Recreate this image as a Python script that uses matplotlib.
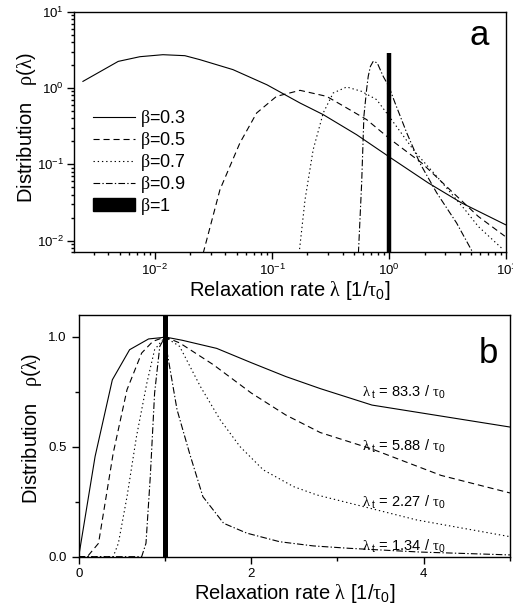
import numpy as np
import matplotlib
matplotlib.use('Agg')
import matplotlib.pyplot as plt
from matplotlib.lines import Line2D
from matplotlib.patches import Patch
from matplotlib.ticker import FixedLocator

plt.rcParams['font.family'] = ['Liberation Sans', 'DejaVu Sans']
plt.rcParams['mathtext.fontset'] = 'custom'
plt.rcParams['mathtext.rm'] = 'Liberation Serif'
plt.rcParams['mathtext.sf'] = 'Liberation Sans'
plt.rcParams['mathtext.it'] = 'Liberation Serif:italic'
plt.rcParams['axes.unicode_minus'] = False

# ------------------------------------------------------------
# Panel a: distributions of relaxation rates (log-log)
# ------------------------------------------------------------
betas = ['0.3', '0.5', '0.7', '0.9']

lam_b03 = [0.00243, 0.00486, 0.00745, 0.0117, 0.0180, 0.0242, 0.0463, 0.0904,
           0.173, 0.273, 0.526, 1.03, 2.15, 4.14, 9.82]
rho_b03 = [1.22, 2.23, 2.57, 2.73, 2.65, 2.35, 1.74, 1.10,
           0.635, 0.447, 0.244, 0.121, 0.0569, 0.0311, 0.0161]

lam_b05 = [0.0258, 0.0359, 0.0531, 0.0738, 0.109, 0.173, 0.292, 0.433,
           0.640, 1.03, 1.89, 3.40, 5.74, 9.68]
rho_b05 = [0.0068, 0.0465, 0.190, 0.470, 0.776, 0.931, 0.776, 0.547,
           0.385, 0.210, 0.104, 0.0442, 0.0207, 0.0114]

lam_b07 = [0.170, 0.191, 0.224, 0.273, 0.332, 0.433, 0.581, 0.780,
           1.03, 1.65, 2.61, 4.42, 5.74, 9.38]
rho_b07 = [0.0068, 0.0344, 0.155, 0.470, 0.859, 1.03, 0.902, 0.703,
           0.396, 0.146, 0.0661, 0.0254, 0.0153, 0.0076]

lam_b09 = [0.545, 0.581, 0.607, 0.640, 0.661, 0.690, 0.730, 0.789, 0.887,
           0.993, 1.12, 1.41, 1.82, 2.54, 3.75, 5.20]
rho_b09 = [0.0068, 0.0569, 0.425, 0.951, 1.42, 1.92, 2.24, 2.13, 1.42,
           1.04, 0.635, 0.257, 0.104, 0.0421, 0.0170, 0.0068]

# beta = 1: delta peak at lambda = 1/tau0
lam_b10 = [1.0, 1.0]
rho_b10 = [0.001, 2.9]

# ------------------------------------------------------------
# Panel b: truncated distributions, normalised at lambda = 1
# ------------------------------------------------------------
lam_t_labels = ['83.3', '5.88', '2.27', '1.34']

x_t833 = [0, 0.19, 0.39, 0.59, 0.81, 0.96, 1.0, 1.2, 1.6, 2.0, 2.4, 2.8, 3.4, 4.2, 5.0]
y_t833 = [0, 0.456, 0.805, 0.942, 0.991, 0.997, 1.0, 0.985, 0.948, 0.883, 0.82,
          0.765, 0.69, 0.64, 0.59]

x_t588 = [0, 0.10, 0.23, 0.40, 0.56, 0.73, 0.86, 1.0, 1.17, 1.56, 2.0, 2.4, 2.8,
          3.4, 4.2, 5.0]
y_t588 = [0, 0, 0.061, 0.471, 0.760, 0.927, 0.980, 1.0, 0.973, 0.874, 0.745,
          0.645, 0.565, 0.49, 0.37, 0.29]

x_t227 = [0, 0.40, 0.46, 0.56, 0.67, 0.79, 0.88, 1.0, 1.17, 1.41, 1.64, 1.87,
          2.14, 2.49, 2.76, 3.30, 3.92, 5.0]
y_t227 = [0, 0, 0.061, 0.273, 0.547, 0.790, 0.942, 1.0, 0.957, 0.775, 0.623,
          0.501, 0.395, 0.319, 0.281, 0.228, 0.167, 0.091]

x_t134 = [0, 0.73, 0.78, 0.83, 0.88, 0.94, 1.0, 1.02, 1.14, 1.29, 1.44, 1.68,
          1.95, 2.33, 2.72, 3.14, 3.96, 5.0]
y_t134 = [0, 0, 0.061, 0.365, 0.745, 0.957, 1.0, 0.942, 0.669, 0.464, 0.273,
          0.152, 0.107, 0.068, 0.049, 0.038, 0.021, 0.008]

styles = [dict(ls='-'),
          dict(ls=(0, (5.5, 3.5))),
          dict(ls=(0, (1.2, 2.6))),
          dict(ls=(0, (6, 2, 1.2, 2)))]
lw = 0.8

LAM = r'$\mathrm{\lambda}$'
TAU0 = r'$\mathrm{\tau}_{\mathsf{0}}$'
xlabel = 'Relaxation rate ' + LAM + ' [1/' + TAU0 + ']'
ylabel = 'Distribution   ' + r'$\mathrm{\rho}$(' + LAM + ')'

fig = plt.figure(figsize=(5.13, 6.12), dpi=100)

# ---------------- panel a ----------------
ax = fig.add_axes([0.1443, 0.5877, 0.8430, 0.3932])
curves_a = [(lam_b03, rho_b03), (lam_b05, rho_b05), (lam_b07, rho_b07), (lam_b09, rho_b09)]
for (x, y), st in zip(curves_a, styles):
    ax.plot(x, y, color='black', lw=lw, **st)
ax.plot(lam_b10, rho_b10, color='black', lw=3.2, solid_capstyle='butt')
ax.set_xscale('log')
ax.set_yscale('log')
ax.set_xlim(0.00204, 10)
ax.set_ylim(0.0070, 10)
ax.tick_params(which='both', direction='out', top=False, right=False,
               labelsize=9.5, width=1, pad=2.5)
ax.tick_params(which='major', length=5)
ax.tick_params(which='minor', length=2.5)
for s in ax.spines.values():
    s.set_linewidth(1)
ax.set_xlabel(xlabel, fontsize=14.5)
ax.set_ylabel(ylabel, fontsize=14.5)
ax.xaxis.set_label_coords(0.5, -0.112)
ax.xaxis.label.set_va('top')
ax.yaxis.set_label_coords(-0.082, 0.52)
ax.text(0.936, 0.862, 'a', transform=ax.transAxes, fontsize=25,
        ha='center', va='baseline')

handles = [Line2D([], [], color='black', lw=lw, **st) for st in styles]
handles.append(Patch(facecolor='black', edgecolor='black'))
labels = [r'$\mathrm{\beta}$=' + b for b in betas] + [r'$\mathrm{\beta}$=1']
ax.legend(handles, labels, loc='upper left', bbox_to_anchor=(0.044, 0.598),
          frameon=False, fontsize=13, borderpad=0, borderaxespad=0,
          handlelength=2.3, handleheight=0.75, handletextpad=0.3,
          labelspacing=0.05)

# ---------------- panel b ----------------
ax = fig.add_axes([0.1534, 0.0904, 0.8408, 0.3949])
curves_b = [(x_t833, y_t833), (x_t588, y_t588), (x_t227, y_t227), (x_t134, y_t134)]
for (x, y), st in zip(curves_b, styles):
    ax.plot(x, y, color='black', lw=lw, **st)
ax.axvline(1.0, color='black', lw=3.6)
ax.set_xlim(0, 5)
ax.set_ylim(0, 1.1)
ax.set_xticks([0, 2, 4])
ax.set_xticklabels(['0', '2', '4'])
ax.xaxis.set_minor_locator(FixedLocator([1, 3, 5]))
ax.set_yticks([0, 0.5, 1.0])
ax.set_yticklabels(['0.0', '0.5', '1.0'])
ax.yaxis.set_minor_locator(FixedLocator([0.25, 0.75]))
ax.tick_params(which='both', direction='out', top=False, right=False,
               labelsize=9.5, width=1)
ax.tick_params(which='major', length=5)
ax.tick_params(which='minor', length=3)
for s in ax.spines.values():
    s.set_linewidth(1)
ax.set_xlabel(xlabel, fontsize=14.5)
ax.set_ylabel(ylabel, fontsize=14.5)
ax.xaxis.set_label_coords(0.5, -0.105)
ax.xaxis.label.set_va('top')
ax.yaxis.set_label_coords(-0.080, 0.532)
ax.text(0.950, 0.801, 'b', transform=ax.transAxes, fontsize=25,
        ha='center', va='baseline')

label_y = [0.728, 0.48, 0.227, 0.026]
for lab, yy in zip(lam_t_labels, label_y):
    ax.text(3.28, yy, LAM + r'$_{\ \mathsf{t}}$' + ' = ' + lab + ' / ' + TAU0,
            fontsize=10.5, ha='left', va='baseline')

fig.savefig('out.png', dpi=100, facecolor='white')
